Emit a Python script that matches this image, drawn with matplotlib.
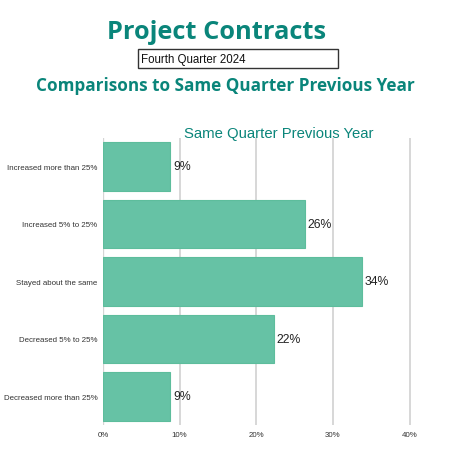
import matplotlib.pyplot as plt
from matplotlib.patches import Rectangle

categories = ['Increased more than 25%', 'Increased 5% to 25%', 'Stayed about the same',
              'Decreased 5% to 25%', 'Decreased more than 25%']
values = [8.8, 26.3, 33.8, 22.3, 8.8]
value_labels = ['9%', '26%', '34%', '22%', '9%']
x_ticks = [0, 10, 20, 30, 40]
x_tick_labels = ['0%', '10%', '20%', '30%', '40%']

teal = '#0a857a'
bar_color = '#66c2a5'

fig = plt.figure(figsize=(4.5, 4.64), dpi=100)
ax = fig.add_axes([0.2289, 0.0814, 0.6867, 0.6196])

ypos = list(range(len(categories)))
ax.barh(ypos, values, height=0.85, color=bar_color, edgecolor='#5dbd9c', linewidth=0.8, zorder=3)
for y, v, lab in zip(ypos, values, value_labels):
    ax.text(v + 0.35, y, lab, va='center', ha='left', fontsize=8.8,
            family='Liberation Sans', color='#222222', zorder=4)

ax.set_ylim(len(categories) - 0.5, -0.5)
ax.set_xlim(0, 40.3)
ax.set_yticks(ypos)
ax.set_yticklabels(categories, fontsize=5.7, family='Liberation Sans', color='#333333')
ax.set_xticks(x_ticks)
ax.set_xticklabels(x_tick_labels, fontsize=5.7, family='Liberation Sans', color='#333333')
ax.tick_params(length=0, pad=4)
ax.grid(axis='x', color='#d4d4d4', linewidth=1.3, zorder=0)
for s in ax.spines.values():
    s.set_visible(False)
ax.axvline(0, color='#e0e0e0', linewidth=1, zorder=1)

fig.text(0.481, 0.916, 'Project Contracts', ha='center', va='baseline', fontsize=18.3,
         fontweight='bold', family='Open Sans', color=teal)
fig.patches.append(Rectangle((138 / 450, 1 - 69 / 464), 200 / 450, 19 / 464,
                             transform=fig.transFigure, fill=False,
                             edgecolor='#333333', linewidth=1.0))
fig.text(141 / 450, 1 - 59.5 / 464, 'Fourth Quarter 2024', ha='left', va='center',
         fontsize=8.3, family='Liberation Sans', color='#111111')
fig.text(0.5, 1 - 91 / 464, 'Comparisons to Same Quarter Previous Year', ha='center',
         va='baseline', fontsize=12.3, fontweight='bold', family='Open Sans', color=teal)
fig.text(278.5 / 450, 1 - 138 / 464, 'Same Quarter Previous Year', ha='center',
         va='baseline', fontsize=10.7, family='Liberation Sans', color=teal)

fig.savefig('out.png', dpi=100)
